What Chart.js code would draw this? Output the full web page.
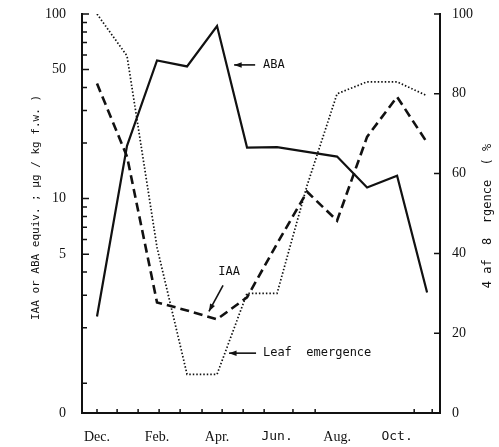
<!DOCTYPE html>
<html>
<head>
<meta charset="utf-8">
<script src="https://cdn.jsdelivr.net/npm/chart.js@4.4.1/dist/chart.umd.min.js"></script>
<style>
  html, body { margin: 0; padding: 0; background: #fff; }
  canvas { display: block; }
</style>
</head>
<body>
<canvas id="c" width="499" height="447"></canvas>
<script>
// -- data --
const MONTHS = ['Dec.', 'Jan.', 'Feb.', 'Mar.', 'Apr.', 'May', 'Jun.', 'Jul.', 'Aug.', 'Sep.', 'Oct.', 'Nov.'];
const ABA  = [2.3, 19.3, 56, 52, 86, 18.9, 19.0, 17.9, 16.9, 11.5, 13.3, 3.1];
const IAA  = [42, 16.9, 2.74, 2.48, 2.22, 2.92, 5.7, 10.9, 7.6, 21.6, 35.6, 20.1];
const LEAF = [100, 89.5, 41.5, 9.7, 9.7, 30, 30, 57, 80, 83, 83, 79.5];

const X_LABELED = [0, 2, 4, 6, 8, 10];
const X_MINOR   = [0, 0.67, 1.37, 2.07, 2.77, 3.5, 4.17, 4.87, 5.57, 6.53, 7.27, 10.57, 11.17];
const LEFT_LABELS = { 100: '100', 50: '50', 10: '10', 5: '5' };
const LEFT_MIN = 0.69;
const RIGHT_TICKS = [0, 20, 40, 60, 80, 100];

const LEFT_TITLE  = 'IAA or ABA equiv. ; \u00b5g / kg f.w. )';
const RIGHT_TITLE = '4 af  8  rgence  ( %';

// annotations in data coordinates
const NOTES = [
  { text: 'ABA', axis: 'y', at: [5.53, 53], from: [5.27, 53], to: [4.57, 53], align: 'left' },
  { text: 'IAA', axis: 'y', at: [4.4, 4.0], from: [4.2, 3.39], to: [3.73, 2.45], align: 'center' },
  { text: 'Leaf  emergence', axis: 'y2', at: [5.53, 15], from: [5.3, 15], to: [4.4, 15], align: 'left' },
];

const INK = '#111';
const MONO = '"DejaVu Sans Mono", monospace';
const SERIF = '"Liberation Serif", serif';

const pts = arr => arr.map((v, i) => ({ x: i, y: v }));

// keep tick padding from pushing the plot area in
const tightY = w => s => { s.width = w; s.paddingTop = 7; s.paddingBottom = 7; };

// ticks pointing into the plot, plus titles and arrows
const extras = {
  id: 'extras',
  afterDraw(chart) {
    const { ctx, chartArea: a, scales } = chart;
    ctx.save();
    ctx.strokeStyle = INK;
    ctx.lineWidth = 1.5;
    ctx.beginPath();
    scales.y.ticks.forEach(t => {
      const py = scales.y.getPixelForValue(t.value);
      const len = LEFT_LABELS[t.value] ? 7 : 5;
      ctx.moveTo(a.left, py); ctx.lineTo(a.left + len, py);
    });
    RIGHT_TICKS.forEach(v => {
      const py = scales.y2.getPixelForValue(v);
      ctx.moveTo(a.right, py); ctx.lineTo(a.right - 6, py);
    });
    X_MINOR.forEach(v => {
      const px = scales.x.getPixelForValue(v);
      ctx.moveTo(px, a.bottom); ctx.lineTo(px, a.bottom - 4);
    });
    ctx.stroke();

    // axis titles
    ctx.fillStyle = INK;
    ctx.font = '11px ' + MONO;
    ctx.textAlign = 'center';
    ctx.textBaseline = 'middle';
    ctx.save();
    ctx.translate(36, (a.top + a.bottom) / 2 - 6);
    ctx.rotate(-Math.PI / 2);
    ctx.fillText(LEFT_TITLE, 0, 0);
    ctx.restore();
    ctx.save();
    ctx.font = '12px ' + MONO;
    ctx.translate(488, 216);
    ctx.rotate(-Math.PI / 2);
    ctx.fillText(RIGHT_TITLE, 0, 0);
    ctx.restore();

    // annotations
    ctx.font = '12px ' + MONO;
    NOTES.forEach(n => {
      const ys = scales[n.axis];
      const tx = scales.x.getPixelForValue(n.at[0]), ty = ys.getPixelForValue(n.at[1]);
      ctx.textAlign = n.align;
      ctx.fillText(n.text, tx, ty);
      const x1 = scales.x.getPixelForValue(n.from[0]), y1 = ys.getPixelForValue(n.from[1]);
      const x2 = scales.x.getPixelForValue(n.to[0]), y2 = ys.getPixelForValue(n.to[1]);
      ctx.lineWidth = 1.6;
      ctx.beginPath(); ctx.moveTo(x1, y1); ctx.lineTo(x2, y2); ctx.stroke();
      const ang = Math.atan2(y2 - y1, x2 - x1);
      ctx.beginPath();
      ctx.moveTo(x2, y2);
      ctx.lineTo(x2 - 8 * Math.cos(ang - 0.35), y2 - 8 * Math.sin(ang - 0.35));
      ctx.lineTo(x2 - 8 * Math.cos(ang + 0.35), y2 - 8 * Math.sin(ang + 0.35));
      ctx.closePath(); ctx.fill();
    });
    ctx.restore();
  },
};

const line = (data, dash, width, axis) => ({
  data: pts(data),
  borderColor: INK,
  borderWidth: width,
  borderDash: dash,
  pointRadius: 0,
  tension: 0,
  fill: false,
  yAxisID: axis,
});

new Chart(document.getElementById('c'), {
  type: 'line',
  data: {
    datasets: [
      line(ABA, [], 2.2, 'y'),
      line(IAA, [9, 5], 2.6, 'y'),
      line(LEAF, [1.5, 2], 1.7, 'y2'),
    ],
  },
  options: {
    responsive: false,
    animation: false,
    layout: { padding: { top: 14, left: 0, right: 0, bottom: 0 } },
    plugins: { legend: { display: false }, tooltip: { enabled: false } },
    scales: {
      x: {
        type: 'linear',
        min: -0.5,
        max: 11.43,
        afterBuildTicks: s => { s.ticks = X_LABELED.map(v => ({ value: v })); },
        afterFit: s => { s.height = 34; },
        grid: { display: false, drawTicks: false },
        border: { display: true, color: INK, width: 2 },
        ticks: {
          autoSkip: false,
          maxRotation: 0,
          padding: 16,
          color: INK,
          font: c => {
            const mono = c.tick && (c.tick.value === 6 || c.tick.value === 10);
            return { family: mono ? MONO : SERIF, size: mono ? 13 : 14 };
          },
          callback: v => MONTHS[v],
        },
      },
      y: {
        type: 'logarithmic',
        position: 'left',
        min: LEFT_MIN,
        max: 100,
        afterBuildTicks: s => {
          const t = [{ value: LEFT_MIN }];
          [1, 10].forEach(d => { for (let k = 1; k <= 9; k++) t.push({ value: k * d }); });
          t.push({ value: 100 });
          s.ticks = t;
        },
        afterFit: tightY(82),
        grid: { display: false, drawTicks: false },
        border: { display: true, color: INK, width: 2 },
        ticks: {
          autoSkip: false,
          padding: 16,
          color: INK,
          font: { family: SERIF, size: 14 },
          callback: v => LEFT_LABELS[v] || (v === LEFT_MIN ? '0' : ''),
        },
      },
      y2: {
        type: 'linear',
        position: 'right',
        min: 0,
        max: 100,
        afterBuildTicks: s => { s.ticks = RIGHT_TICKS.map(v => ({ value: v })); },
        afterFit: tightY(59),
        grid: { display: false, drawTicks: false },
        border: { display: true, color: INK, width: 2 },
        ticks: {
          autoSkip: false,
          padding: 12,
          color: INK,
          font: { family: SERIF, size: 14 },
        },
      },
    },
  },
  plugins: [extras],
});
</script>
</body>
</html>
